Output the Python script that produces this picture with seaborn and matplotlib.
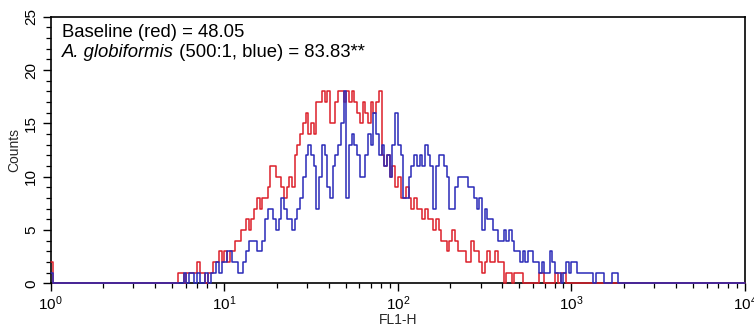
import numpy as np
import pandas as pd
import matplotlib
matplotlib.use("Agg")
import matplotlib.pyplot as plt
import seaborn as sns

# ---- data: counts per channel (256 log channels over 10^0..10^4) ----
n_channels = 256
decades = 4

red_counts = ([2] + [0] * 45 + [
    0, 1, 1, 0, 1, 1, 1, 1, 2, 1, 1, 0, 1, 1, 2, 2, 3, 2, 3, 2,
    3, 3, 4, 4, 5, 5, 6, 5, 6, 7, 8, 7, 8, 8, 9, 11, 11, 10, 10, 9,
    8, 9, 10, 9, 12, 13, 14, 15, 16, 14, 15, 14, 17, 17, 18, 17, 18, 15, 15, 17,
    18, 18, 17, 18, 17, 18, 17, 16, 15, 17, 16, 15, 17, 16, 17, 18,
    12, 11, 12, 10, 11, 9, 10, 8, 8, 9, 8, 7, 8, 7, 7, 6, 7, 6, 6, 5,
    6, 5, 4, 4, 3, 4, 5, 4, 3, 3, 3, 2, 2, 4, 3, 3, 2, 1, 2, 3,
    2, 2, 3, 2, 2, 0, 1, 1, 0, 1, 1, 1, 0, 0, 0, 0, 0, 0, 1, 1,
    0, 0, 0, 0, 1, 0, 1, 1, 0,
] + [0] * 65)

blue_counts = ([1] + [0] * 48 + [
    1, 0, 1, 1, 0, 1, 0, 0, 1, 0, 1, 1, 2, 1, 2, 2, 3, 3, 2, 2, 1,
    1, 2, 3, 4, 4, 4, 3, 3, 4, 6, 7, 7, 6, 5, 6, 8, 7, 6, 6, 5,
    6, 7, 8, 10, 12, 13, 12, 11, 7, 10, 13, 12, 9, 8, 11, 12, 13, 15, 18, 8,
    13, 14, 13, 12, 10, 10, 12, 14, 13, 16, 14, 12, 13, 11, 12, 10, 13, 16, 13, 12,
    8, 8, 10, 11, 12, 11, 12, 11, 13, 12, 11, 7, 11, 12, 12, 11, 10, 7, 7, 9,
    10, 10, 10, 10, 9, 9, 8, 7, 8, 5, 7, 6, 6, 5, 5, 4, 4, 5, 4, 5,
    4, 3, 3, 2, 3, 2, 3, 3, 2, 2, 1, 2, 1,
    1, 3, 2, 1, 1, 0, 1, 2, 1, 2, 2, 1, 1, 1, 1, 1, 1, 0, 1, 1,
    1, 0, 0, 0, 1, 1,
] + [0] * 47)

series_names = ["Baseline", "A. globiformis"]
series_colors = ["#dc1f2a", "#2a2ab8"]
annotation_line1 = "Baseline (red) = 48.05"
annotation_italic = "A. globiformis"
annotation_rest = " (500:1, blue) = 83.83**"
x_label = "FL1-H"
y_label = "Counts"

# ---- build long table of step outlines ----
edges = 10.0 ** (np.arange(n_channels + 1) * decades / n_channels)
frames = []
for name, counts in zip(series_names, [red_counts, blue_counts]):
    y = list(counts) + [counts[-1]]
    frames.append(pd.DataFrame({"FL1-H": edges, "Counts": y, "sample": name}))
df = pd.concat(frames, ignore_index=True)

sns.set_theme(style="ticks")
plt.rcParams["font.family"] = ["Liberation Sans", "DejaVu Sans"]
plt.rcParams["mathtext.fontset"] = "custom"
plt.rcParams["mathtext.rm"] = "Liberation Sans"
plt.rcParams["mathtext.it"] = "Liberation Sans:italic"

fig = plt.figure(figsize=(7.54, 3.27), dpi=100)
ax = fig.add_axes([0.0672, 0.1336, 0.9209, 0.8154])

sns.lineplot(data=df, x="FL1-H", y="Counts", hue="sample",
             palette=dict(zip(series_names, series_colors)),
             hue_order=series_names, estimator=None, sort=False,
             drawstyle="steps-post", linewidth=1.1, legend=False, ax=ax,
             zorder=3, clip_on=False)

ax.set_xscale("log")
ax.set_xlim(1, 1e4)
ax.set_ylim(0, 25)
ax.set_yticks([0, 5, 10, 15, 20, 25])
ax.yaxis.set_minor_locator(matplotlib.ticker.MultipleLocator(1))
ax.xaxis.set_minor_locator(matplotlib.ticker.LogLocator(base=10, subs=np.arange(2, 10)))
ax.xaxis.set_minor_formatter(matplotlib.ticker.NullFormatter())

for side in ["top", "right", "left", "bottom"]:
    ax.spines[side].set_visible(True)
    ax.spines[side].set_color("black")
    ax.spines[side].set_linewidth(1.2)

ax.tick_params(axis="both", which="major", length=6, width=1, color="black",
               labelsize=11, labelcolor="black", direction="out")
ax.tick_params(axis="both", which="minor", length=3.5, width=0.9, color="black",
               direction="out")
ax.tick_params(axis="y", which="major", pad=3)
ax.tick_params(axis="x", which="major", pad=2)
for lab in ax.get_yticklabels():
    lab.set_rotation(90)
    lab.set_va("center")

ax.set_xlabel(x_label, fontsize=10, labelpad=0)
ax.set_ylabel(y_label, fontsize=10, labelpad=2)

t1 = ax.text(0.0158, 0.9227, annotation_line1, transform=ax.transAxes,
             fontsize=13.3, va="baseline", ha="left", color="black")
t2 = ax.text(0.0158, 0.8477, annotation_italic, transform=ax.transAxes,
             fontsize=13.3, va="baseline", ha="left", style="italic", color="black")
ax.annotate(annotation_rest, xy=(1, 0), xycoords=t2, va="bottom", ha="left",
            fontsize=13.3, color="black")

fig.savefig("out.png", dpi=100)
